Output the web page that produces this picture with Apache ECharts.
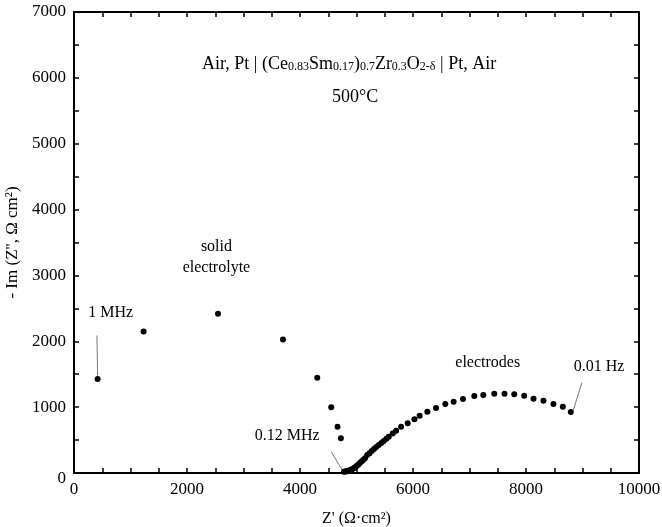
<!DOCTYPE html>
<html>
<head>
<meta charset="utf-8">
<script src="https://cdn.jsdelivr.net/npm/echarts@6/dist/echarts.min.js"></script>
<style>html,body{margin:0;padding:0;background:#fff;}#c{width:662px;height:527px;}</style>
</head>
<body>
<div id="c"></div>
<script>
// Solid electrolyte arc (Z', -Z'')
var electrolyteZre = [418, 1231, 2549, 3698, 4305, 4553, 4664, 4723];
var electrolyteZim = [1426, 2150, 2417, 2029, 1446, 997, 703, 526];
// Electrode arc
var electrodeZre = [4776, 4800, 4820, 4840, 4860, 4880, 4900, 4920, 4945, 4970, 5000, 5030, 5060, 5090, 5120, 5150, 5189, 5230, 5270, 5310, 5350, 5394, 5440, 5482, 5530, 5571, 5640, 5701, 5790, 5906, 6025, 6118, 6254, 6408, 6572, 6719, 6885, 7085, 7244, 7438, 7620, 7792, 7968, 8133, 8309, 8486, 8652, 8793];
var electrodeZim = [20, 22, 25, 28, 33, 40, 48, 57, 70, 85, 105, 125, 150, 175, 200, 225, 273, 300, 335, 365, 395, 425, 455, 486, 520, 551, 600, 642, 703, 754, 815, 870, 930, 986, 1047, 1082, 1123, 1168, 1184, 1203, 1203, 1194, 1173, 1128, 1097, 1047, 1006, 926];
// Tick labels
var xTickLabels = [0, 2000, 4000, 6000, 8000, 10000];
var yTickLabels = [0, 1000, 2000, 3000, 4000, 5000, 6000, 7000];
// Annotations (text, x, y) in data units
var annTexts = ['1 MHz', '0.12 MHz', '0.01 Hz', 'electrodes', 'solid', 'electrolyte'];
var annX = [650, 3772, 9293, 7323, 2521, 2521];
var annY = [2430, 566, 1613, 1680, 3440, 3110];
// Leader lines [x1, y1, x2, y2]
var leaderX1 = [418, 4747, 8839];
var leaderY1 = [1480, 45, 956];
var leaderX2 = [406, 4553, 8988];
var leaderY2 = [2088, 323, 1370];

var FONT = '"Liberation Serif", "Times New Roman", serif';
function zip(a, b) { return a.map(function (v, i) { return [v, b[i]]; }); }

var chart = echarts.init(document.getElementById('c'));
var axisLine = { show: true, onZero: false, lineStyle: { color: '#000', width: 2 } };
var tick = { show: true, inside: true, length: 5, lineStyle: { color: '#000', width: 1.5 } };

chart.setOption({
  animation: false,
  backgroundColor: '#fff',
  title: [
    {
      text: '{n|Air, Pt | (Ce}{s|0.83}{n|Sm}{s|0.17}{n|)}{s|0.7}{n|Zr}{s|0.3}{n|O}{s|2-δ}{n| | Pt, Air}',
      left: 197, top: 46,
      textStyle: {
        fontFamily: FONT, fontWeight: 'normal', color: '#000',
        rich: {
          n: { fontFamily: FONT, fontSize: 18, lineHeight: 22, verticalAlign: 'bottom', color: '#000' },
          s: { fontFamily: FONT, fontSize: 12, lineHeight: 12, padding: [8, 0, 0, 0], verticalAlign: 'bottom', color: '#000' }
        }
      }
    },
    {
      text: '500°C', left: 327, top: 83,
      textStyle: { fontFamily: FONT, fontSize: 18, fontWeight: 'normal', color: '#000' }
    }
  ],
  grid: { left: 74, right: 23, top: 12, bottom: 54, containLabel: false, outerBoundsMode: 'none' },
  xAxis: [
    {
      type: 'value', min: 0, max: 10000, interval: 500,
      name: "Z' (Ω·cm²)", nameLocation: 'middle', nameGap: 38,
      nameTextStyle: { fontFamily: FONT, fontSize: 16, color: '#000' },
      axisLine: axisLine, axisTick: tick, splitLine: { show: false },
      axisLabel: {
        fontFamily: FONT, fontSize: 17, color: '#000', margin: 8,
        formatter: function (v) { return xTickLabels.indexOf(v) >= 0 ? String(v) : ''; }
      }
    },
    {
      type: 'value', position: 'top', min: 0, max: 10000, interval: 500,
      axisLine: axisLine, axisTick: tick, axisLabel: { show: false }, splitLine: { show: false }
    }
  ],
  yAxis: [
    {
      type: 'value', min: 0, max: 7000, interval: 500,
      name: "- Im (Z'', Ω cm²)", nameLocation: 'middle', nameGap: 44,
      nameTextStyle: { fontFamily: FONT, fontSize: 17, color: '#000' },
      axisLine: axisLine, axisTick: tick, splitLine: { show: false },
      axisLabel: {
        fontFamily: FONT, fontSize: 17, color: '#000', margin: 8,
        formatter: function (v) {
          if (v === 0) return '{z|0}';
          return yTickLabels.indexOf(v) >= 0 ? String(v) : '';
        },
        rich: { z: { fontFamily: FONT, fontSize: 17, color: '#000', padding: [12, 0, 0, 0] } }
      }
    },
    {
      type: 'value', position: 'right', min: 0, max: 7000, interval: 500,
      axisLine: axisLine, axisTick: tick, axisLabel: { show: false }, splitLine: { show: false }
    }
  ],
  series: [
    {
      type: 'scatter', name: 'electrolyte', symbolSize: 6,
      itemStyle: { color: '#000', opacity: 1 },
      data: zip(electrolyteZre, electrolyteZim)
    },
    {
      type: 'scatter', name: 'electrodes', symbolSize: 6,
      itemStyle: { color: '#000', opacity: 1 },
      data: zip(electrodeZre, electrodeZim)
    },
    {
      type: 'scatter', name: 'annotations', symbolSize: 0, silent: true,
      itemStyle: { opacity: 1 },
      label: { show: true, position: 'inside', fontFamily: FONT, fontSize: 16, color: '#000', formatter: function (p) { return p.data[2]; } },
      data: annX.map(function (x, i) { return [x, annY[i], annTexts[i]]; })
    },
    {
      type: 'lines', coordinateSystem: 'cartesian2d', silent: true,
      lineStyle: { color: '#777', width: 1, opacity: 1 },
      data: leaderX1.map(function (x, i) { return { coords: [[x, leaderY1[i]], [leaderX2[i], leaderY2[i]]] }; })
    }
  ]
});
</script>
</body>
</html>
